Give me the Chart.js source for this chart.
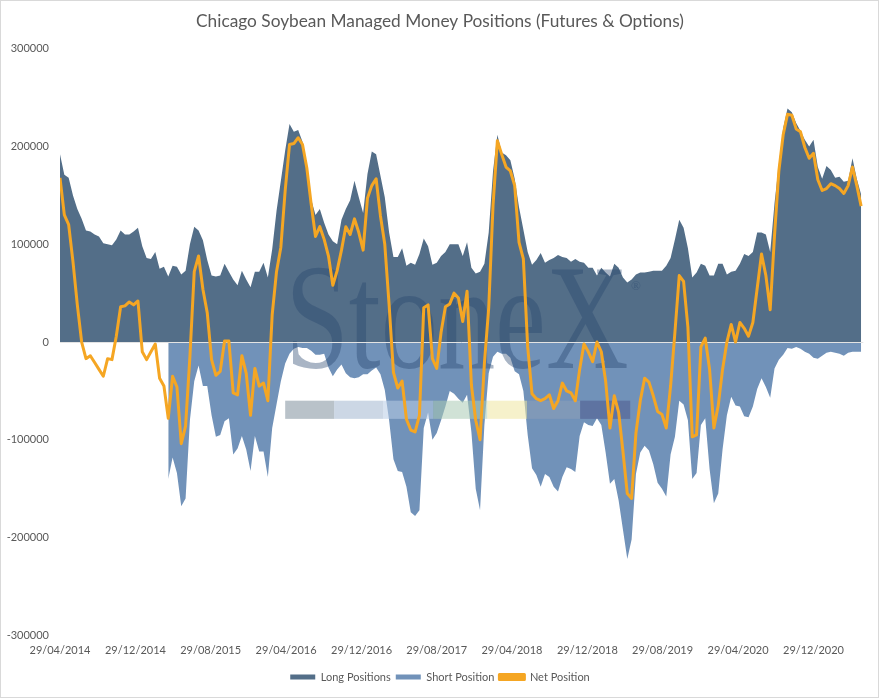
<!DOCTYPE html>
<html lang="en">
<head>
    <meta charset="UTF-8">
    <title>Chicago Soybean Managed Money Positions</title>
    <script src="https://cdn.jsdelivr.net/npm/chart.js"></script>
    <style>
        body { margin: 0; background: #fff; }
        canvas { display: block; }
    </style>
</head>
<body>
<canvas id="positionsChart" width="880" height="698"></canvas>

<script>
    // Fortnightly readings, first one on 29/04/2014 (values in thousand contracts)
    const startDate = '29/04/2014';
    const stepDays = 14;

    const longPositions = [
        192, 171, 168, 150, 136, 126, 114, 113, 110, 108,
        101, 100, 99, 105, 114, 110, 110, 113, 117, 98,
        86, 85, 92, 75, 77, 67, 78, 77, 69, 73,
        100, 118, 114, 104, 84, 68, 67, 68, 80, 72,
        64, 58, 73, 64, 56, 72, 72, 81, 66, 95,
        134, 165, 196, 223, 215, 217, 205, 180, 146, 130,
        136, 122, 110, 103, 100, 125, 136, 145, 165, 148,
        132, 172, 195, 192, 170, 148, 112, 87, 87, 96,
        78, 81, 79, 90, 106, 98, 79, 81, 88, 92,
        100, 100, 100, 88, 102, 76, 70, 72, 80, 112,
        175, 212, 194, 191, 186, 167, 138, 115, 92, 79,
        84, 91, 81, 84, 86, 89, 87, 86, 82, 85,
        82, 81, 76, 76, 68, 76, 71, 67, 80, 76,
        66, 61, 64, 69, 71, 71, 72, 73, 73, 73,
        78, 86, 105, 125, 117, 96, 66, 71, 80, 78,
        68, 68, 80, 80, 69, 72, 73, 80, 90, 88,
        92, 112, 112, 110, 92, 142, 182, 219, 239, 235,
        224, 216, 207, 200, 207, 179, 167, 180, 176, 168,
        169, 164, 165, 188, 167, 151
    ];

    // no short figures before early 2015
    const shortPositions = [
        null, null, null, null, null, null, null, null, null, null,
        null, null, null, null, null, null, null, null, null, null,
        null, null, null, null, null, -140, -118, -134, -168, -160,
        -80, -40, -24, -45, -45, -75, -97, -95, -81, -78,
        -115, -109, -96, -110, -132, -96, -112, -112, -138, -88,
        -64, -40, -22, -12, -7, -5, -6, -6, -9, -13,
        -13, -12, -26, -35, -28, -23, -32, -36, -37, -36,
        -33, -33, -29, -26, -33, -49, -80, -120, -132, -133,
        -148, -174, -178, -172, -88, -72, -100, -93, -80, -66,
        -50, -53, -58, -62, -54, -92, -150, -172, -85, -32,
        -15, -10, -12, -12, -16, -30, -33, -50, -95, -129,
        -136, -148, -135, -138, -148, -153, -138, -128, -130, -133,
        -96, -82, -85, -86, -78, -85, -113, -145, -140, -162,
        -192, -222, -202, -135, -113, -106, -111, -125, -144, -150,
        -158, -115, -97, -60, -64, -80, -140, -134, -85, -78,
        -130, -165, -155, -110, -75, -56, -65, -66, -76, -77,
        -66, -48, -37, -46, -57, -27, -18, -13, -6, -7,
        -5, -7, -10, -12, -16, -17, -14, -11, -10, -11,
        -12, -14, -11, -10, -10, -10
    ];

    const netPositions = [
        168, 130, 120, 82, 38, 0, -17, -14, -21, -28,
        -35, -17, -18, 6, 36, 37, 41, 38, 42, -10,
        -18, -10, -2, -37, -45, -78, -35, -46, -104, -86,
        -15, 72, 88, 54, 30, -18, -34, -30, 1, 1,
        -52, -54, -14, -32, -75, -27, -45, -42, -60, 28,
        72, 97, 155, 202, 203, 209, 202, 178, 141, 108,
        118, 105, 88, 58, 73, 94, 118, 110, 126, 112,
        94, 147, 160, 167, 129, 100, 38, -31, -47, -40,
        -79, -90, -92, -75, 35, 38, -17, -27, 10, 36,
        39, 50, 45, 21, 52, -44, -80, -100, -22, 35,
        140, 206, 192, 179, 175, 160, 102, 85, -5, -53,
        -58, -60, -58, -54, -68, -60, -42, -50, -52, -60,
        -28, -2, -10, -20, 0, -10, -40, -88, -55, -72,
        -112, -155, -160, -93, -60, -37, -41, -55, -71, -74,
        -88, -45, 10, 68, 62, 15, -97, -95, -5, 4,
        -28, -88, -65, -28, 0, 18, 0, 20, 14, 6,
        20, 55, 90, 68, 33, 109, 175, 212, 233, 232,
        218, 215, 199, 188, 193, 166, 155, 157, 162, 160,
        157, 152, 160, 179, 160, 139
    ];

    const xTickLabels = [
        '29/04/2014', '29/12/2014', '29/08/2015', '29/04/2016', '29/12/2016', '29/08/2017',
        '29/04/2018', '29/12/2018', '29/08/2019', '29/04/2020', '29/12/2020'
    ];

    const seriesNames = ['Long Positions', 'Short Position', 'Net Position'];
    const seriesColors = ['#536e88', '#7192b9', '#f5a623'];

    // days since the first reading for a dd/mm/yyyy string
    function dayOffset(label) {
        const toUtc = (s) => {
            const [d, m, y] = s.split('/').map(Number);
            return Date.UTC(y, m - 1, d);
        };
        return Math.round((toUtc(label) - toUtc(startDate)) / 86400000);
    }

    const xTickDays = xTickLabels.map(dayOffset);
    const lastDay = (longPositions.length - 1) * stepDays;
    const toPoints = (values) => values.map((v, i) => ({
        x: i * stepDays,
        y: v === null ? null : v * 1000
    }));

    // white card with thin grey frame, as in the Excel export
    const frame = {
        id: 'frame',
        beforeDraw(chart) {
            const c = chart.ctx;
            c.save();
            c.fillStyle = '#ffffff';
            c.fillRect(0, 0, chart.width, chart.height);
            c.strokeStyle = '#d9d9d9';
            c.lineWidth = 1;
            c.strokeRect(0.5, 0.5, chart.width - 2, chart.height - 1);
            c.restore();
        }
    };

    // faint StoneX logo and the zero line, drawn over the areas but under the net line
    const watermark = {
        id: 'watermark',
        afterDatasetDraw(chart, args) {
            if (args.index !== 0) return;
            const a = chart.chartArea;
            const xs = chart.scales.x;
            const left = a.left;
            const w = xs.getPixelForValue(2600) - left;
            const h = a.bottom - a.top;
            const c = chart.ctx;
            c.save();

            const textLeft = left + w * 0.28;
            const baseLine = a.top + h * 0.545;
            c.font = Math.round(h * 0.258) + 'px "Liberation Serif", serif';
            c.fillStyle = 'rgba(40, 70, 110, 0.4)';
            c.textBaseline = 'alphabetic';
            const tw = c.measureText('StoneX').width;
            c.translate(textLeft, baseLine);
            c.scale((w * 0.427) / tw, 1);
            c.fillText('StoneX', 0, 0);
            c.setTransform(1, 0, 0, 1, 0, 0);
            c.font = '13px "Liberation Serif", serif';
            c.fillText('\u00ae', left + w * 0.71, a.top + h * 0.412);

            const stripCuts = [0, 0.142, 0.284, 0.429, 0.586, 0.701, 0.855, 1];
            const stripColors = ['#7f8f9c', '#a3b6cf', '#b8cce6', '#a9cbb4', '#efe6a0', '#8d9fb8', '#4e5a8e'];
            const sx = left + w * 0.28;
            const sw = w * 0.429;
            const sy = a.top + h * 0.6;
            c.globalAlpha = 0.55;
            stripColors.forEach((col, k) => {
                c.fillStyle = col;
                c.fillRect(sx + sw * stripCuts[k], sy, sw * (stripCuts[k + 1] - stripCuts[k]), h * 0.031);
            });
            c.globalAlpha = 1;

            // horizontal axis line at zero, stops with the data like Excel's plot area
            const y0 = Math.round(chart.scales.y.getPixelForValue(0)) + 0.5;
            c.strokeStyle = '#e3e3e3';
            c.lineWidth = 1;
            c.beginPath();
            c.moveTo(left, y0);
            c.lineTo(xs.getPixelForValue(lastDay + 7), y0);
            c.stroke();
            c.restore();
        }
    };

    Chart.defaults.font.family = 'Lato, "Open Sans", sans-serif';
    Chart.defaults.color = '#595959';

    const positionsChart = new Chart(document.getElementById('positionsChart'), {
        type: 'line',
        data: {
            datasets: [
                {
                    label: seriesNames[0],
                    data: toPoints(longPositions),
                    backgroundColor: seriesColors[0],
                    borderColor: seriesColors[0],
                    borderWidth: 0,
                    fill: 'origin',
                    order: 2
                },
                {
                    label: seriesNames[1],
                    data: toPoints(shortPositions),
                    backgroundColor: seriesColors[1],
                    borderColor: seriesColors[1],
                    borderWidth: 0,
                    fill: 'origin',
                    order: 3
                },
                {
                    label: seriesNames[2],
                    data: toPoints(netPositions),
                    backgroundColor: seriesColors[2],
                    borderColor: seriesColors[2],
                    borderWidth: 3,
                    fill: false,
                    order: 1
                }
            ]
        },
        options: {
            responsive: false,
            animation: false,
            layout: { padding: { left: 0, right: 0, bottom: 5.5 } },
            elements: {
                point: { radius: 0, hoverRadius: 0 },
                line: { tension: 0, borderJoinStyle: 'round' }
            },
            scales: {
                x: {
                    type: 'linear',
                    min: 0,
                    max: 2651,
                    grid: { display: false, drawTicks: false },
                    border: { display: false },
                    afterBuildTicks: (scale) => {
                        scale.ticks = xTickDays.map(v => ({ value: v }));
                    },
                    ticks: {
                        autoSkip: false,
                        maxRotation: 0,
                        padding: 9,
                        font: { size: 11 },
                        callback: (value) => {
                            const k = xTickDays.indexOf(value);
                            return k >= 0 ? xTickLabels[k] : '';
                        }
                    }
                },
                y: {
                    min: -300000,
                    max: 300000,
                    grid: { display: false, drawTicks: false },
                    border: { display: false },
                    afterFit: (scale) => { scale.width = 60; },
                    ticks: {
                        stepSize: 100000,
                        padding: 11,
                        font: { size: 11 },
                        callback: (value) => String(value)
                    }
                }
            },
            plugins: {
                title: {
                    display: true,
                    text: 'Chicago Soybean Managed Money Positions (Futures & Options)',
                    color: '#595959',
                    font: { size: 17.3, weight: 'normal' },
                    padding: { top: 11, bottom: 17 }
                },
                legend: {
                    position: 'bottom',
                    labels: {
                        boxWidth: 25,
                        boxHeight: 5,
                        padding: 5,
                        font: { size: 11 },
                        color: '#595959',
                        sort: (a, b) => a.datasetIndex - b.datasetIndex
                    }
                },
                tooltip: { enabled: false }
            }
        },
        plugins: [frame, watermark]
    });
</script>
</body>
</html>
